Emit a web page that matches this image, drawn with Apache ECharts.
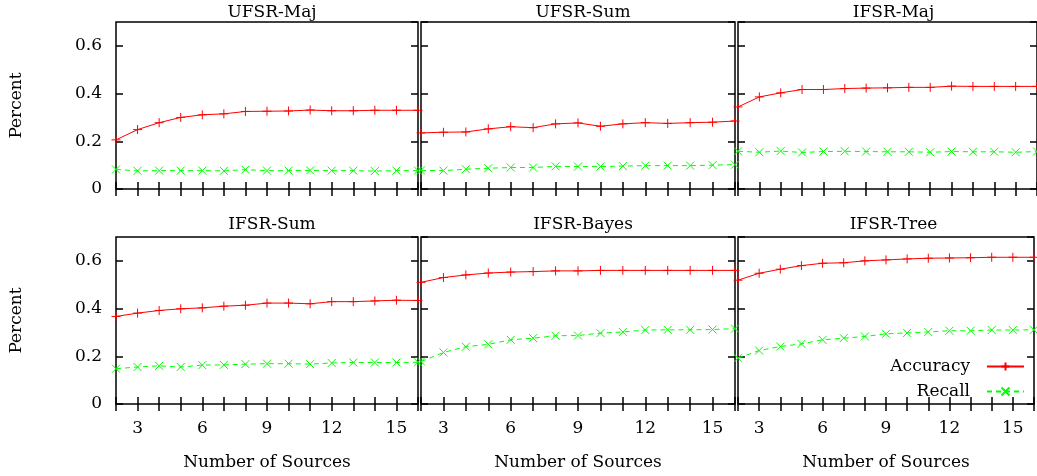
<!DOCTYPE html>
<html>
<head>
<meta charset="utf-8">
<script src="https://cdn.jsdelivr.net/npm/echarts@6/dist/echarts.min.js"></script>
<style>
html,body{margin:0;padding:0;background:#fff;}
#chart{width:1037px;height:476px;}
</style>
</head>
<body>
<div id="chart"></div>
<script>
const xs = [2,3,4,5,6,7,8,9,10,11,12,13,14,15,16];
const xTickLabels = [3,6,9,12,15];
const yTickLabels = [0,0.2,0.4,0.6];
const panelTitles = ['UFSR-Maj','UFSR-Sum','IFSR-Maj','IFSR-Sum','IFSR-Bayes','IFSR-Tree'];
const seriesNames = ['Accuracy','Recall'];

const ufsrMajAcc   = [0.206,0.249,0.278,0.300,0.311,0.315,0.325,0.326,0.327,0.331,0.328,0.328,0.330,0.330,0.330];
const ufsrMajRec   = [0.082,0.076,0.077,0.077,0.077,0.076,0.081,0.077,0.077,0.078,0.077,0.077,0.075,0.077,0.077];
const ufsrSumAcc   = [0.235,0.238,0.239,0.252,0.261,0.257,0.273,0.277,0.263,0.273,0.278,0.275,0.278,0.280,0.285];
const ufsrSumRec   = [0.078,0.077,0.083,0.087,0.090,0.090,0.095,0.094,0.094,0.096,0.098,0.098,0.098,0.100,0.102];
const ifsrMajAcc   = [0.344,0.386,0.403,0.417,0.417,0.421,0.423,0.424,0.426,0.426,0.431,0.430,0.430,0.430,0.430];
const ifsrMajRec   = [0.158,0.154,0.159,0.153,0.157,0.158,0.157,0.156,0.156,0.154,0.157,0.156,0.156,0.154,0.157];
const ifsrSumAcc   = [0.367,0.381,0.392,0.399,0.403,0.410,0.414,0.423,0.423,0.420,0.429,0.429,0.432,0.435,0.434];
const ifsrSumRec   = [0.148,0.155,0.160,0.155,0.163,0.164,0.167,0.169,0.169,0.167,0.172,0.174,0.174,0.174,0.175];
const ifsrBayesAcc = [0.510,0.530,0.541,0.549,0.553,0.555,0.558,0.558,0.560,0.560,0.560,0.560,0.560,0.560,0.560];
const ifsrBayesRec = [0.178,0.216,0.240,0.250,0.269,0.276,0.286,0.287,0.297,0.302,0.310,0.311,0.311,0.312,0.316];
const ifsrTreeAcc  = [0.519,0.548,0.565,0.580,0.590,0.592,0.600,0.604,0.608,0.611,0.612,0.613,0.615,0.615,0.615];
const ifsrTreeRec  = [0.192,0.224,0.241,0.252,0.269,0.276,0.283,0.294,0.298,0.302,0.307,0.307,0.310,0.310,0.311];

const accData = [ufsrMajAcc, ufsrSumAcc, ifsrMajAcc, ifsrSumAcc, ifsrBayesAcc, ifsrTreeAcc];
const recData = [ufsrMajRec, ufsrSumRec, ifsrMajRec, ifsrSumRec, ifsrBayesRec, ifsrTreeRec];

const FONT = 'DejaVu Serif';
const FS = 17;
const colLeft = [116, 421, 738];
const colWidth = [302, 314, 301];
const rowTop = [22, 237];
const rowHeight = 167;

const plusPath = 'path://M5,0L5,10M0,5L10,5';
const crossPath = 'path://M0,0L10,10M10,0L0,10';

const grids = [], xAxes = [], yAxes = [], series = [], titles = [];
for (let i = 0; i < 6; i++) {
  const r = Math.floor(i / 3), c = i % 3;
  grids.push({left: colLeft[c], top: rowTop[r], width: colWidth[c], height: rowHeight,
    show: true, borderColor: '#000', borderWidth: 1.5, backgroundColor: 'transparent', containLabel: false});
  titles.push({text: panelTitles[i], left: colLeft[c] + colWidth[c] / 2, top: r === 0 ? -1 : 211,
    textAlign: 'center', textStyle: {fontFamily: FONT, fontSize: FS, fontWeight: 'normal', color: '#000'}});
  const tick = {show: true, inside: true, length: 7, lineStyle: {color: '#000', width: 1.5}};
  xAxes.push({type: 'value', gridIndex: i, min: 2, max: 16, interval: 1, position: 'bottom',
    axisLine: {show: false}, splitLine: {show: false}, axisTick: tick,
    axisLabel: {show: r === 1, margin: 16, fontFamily: FONT, fontSize: FS, color: '#000',
      formatter: v => xTickLabels.indexOf(v) >= 0 ? String(v) : ''},
    name: r === 1 ? 'Number of Sources' : '', nameLocation: 'middle', nameGap: 50,
    nameTextStyle: {fontFamily: FONT, fontSize: FS, color: '#000'}});
  xAxes.push({type: 'value', gridIndex: i, min: 2, max: 16, interval: 1, position: 'top',
    axisLine: {show: false}, splitLine: {show: false}, axisTick: tick, axisLabel: {show: false}});
  yAxes.push({type: 'value', gridIndex: i, min: 0, max: 0.7, interval: 0.2, position: 'left',
    axisLine: {show: false}, splitLine: {show: false}, axisTick: tick,
    axisLabel: {show: c === 0, margin: 14, showMaxLabel: false, fontFamily: FONT, fontSize: FS, color: '#000',
      formatter: v => yTickLabels.indexOf(Math.round(v * 10) / 10) >= 0 ? String(Math.round(v * 10) / 10) : ''},
    name: c === 0 ? 'Percent' : '', nameLocation: 'middle', nameGap: 91, nameRotate: 90,
    nameTextStyle: {fontFamily: FONT, fontSize: FS, color: '#000'}});
  yAxes.push({type: 'value', gridIndex: i, min: 0, max: 0.7, interval: 0.2, position: 'right',
    axisLine: {show: false}, splitLine: {show: false}, axisTick: tick, axisLabel: {show: false}});

  series.push({name: seriesNames[0], type: 'line', xAxisIndex: 2 * i, yAxisIndex: 2 * i,
    data: xs.map((x, k) => [x, accData[i][k]]), symbol: plusPath, symbolSize: 9, showSymbol: true,
    clip: false, animation: false,
    lineStyle: {color: '#ff0000', width: 1},
    itemStyle: {color: '#ff0000', borderColor: '#ff0000', borderWidth: 1}});
  series.push({name: seriesNames[1], type: 'line', xAxisIndex: 2 * i, yAxisIndex: 2 * i,
    data: xs.map((x, k) => [x, recData[i][k]]), symbol: crossPath, symbolSize: 8, showSymbol: true,
    clip: false, animation: false,
    lineStyle: {color: '#00ff00', width: 1, type: [5, 4]},
    itemStyle: {color: '#00ff00', borderColor: '#00ff00', borderWidth: 1}});
}

const chart = echarts.init(document.getElementById('chart'), null, {renderer: 'canvas'});
chart.setOption({
  animation: false,
  backgroundColor: '#fff',
  title: titles,
  grid: grids,
  xAxis: xAxes,
  yAxis: yAxes,
  legend: {
    data: seriesNames, orient: 'vertical', right: 12, top: 358, align: 'right',
    itemWidth: 37, itemHeight: 10, itemGap: 8, padding: 0,
    textStyle: {fontFamily: FONT, fontSize: FS, color: '#000', padding: [0, 12, 0, 0]}
  },
  series: series
});
</script>
</body>
</html>
